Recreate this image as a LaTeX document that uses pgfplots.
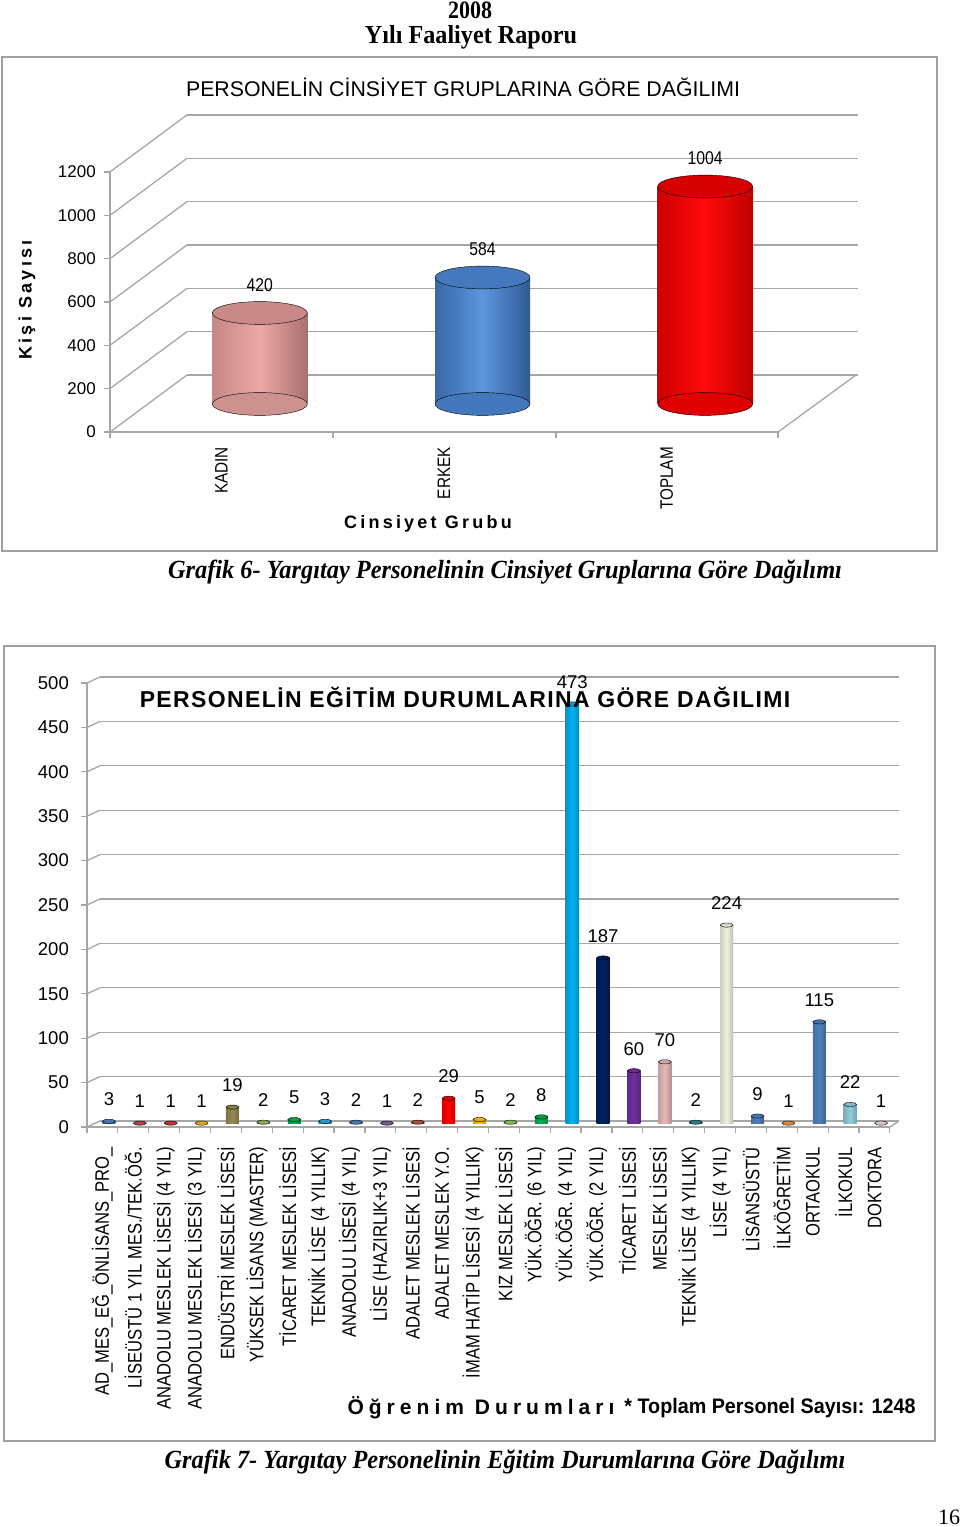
\documentclass[border=0pt]{standalone}
\usepackage{pgfplots}
\pgfplotsset{compat=1.18}
\usepackage{fontspec}
\setmainfont{Liberation Sans}
\newfontfamily\arial{Liberation Sans}
\newfontfamily\narrow[FakeStretch=0.85]{Liberation Sans}
\newfontfamily\semi[FakeStretch=0.94]{Liberation Sans}
\newfontfamily\spaced[LetterSpace=18]{Liberation Sans}
\newfontfamily\spacedb[LetterSpace=24]{Liberation Sans}
\newfontfamily\titlesp[LetterSpace=6]{Liberation Sans}
\newfontfamily\tnrc[FakeStretch=0.88]{Liberation Serif}
\newfontfamily\tnrw[FakeStretch=0.93]{Liberation Serif}
\newfontfamily\tnr{Liberation Serif}
\newcommand\fs[1]{\fontsize{#1}{#1}\selectfont}
\definecolor{grid}{HTML}{A6A6A6}
\definecolor{frame}{HTML}{A0A0A0}
% chart 2 palette
\definecolor{b1}{HTML}{4F81BD}\definecolor{b2}{HTML}{C0504D}\definecolor{b3}{HTML}{D8363A}
\definecolor{b4}{HTML}{F2C314}\definecolor{b5}{HTML}{948A54}\definecolor{b6}{HTML}{9BBB59}
\definecolor{b7}{HTML}{00B050}\definecolor{b8}{HTML}{2EA8DC}\definecolor{b9}{HTML}{4F81BD}
\definecolor{b10}{HTML}{8064A2}\definecolor{b11}{HTML}{C0504D}\definecolor{b12}{HTML}{FF0000}
\definecolor{b13}{HTML}{FFC000}\definecolor{b14}{HTML}{92D050}\definecolor{b15}{HTML}{00B050}
\definecolor{b16}{HTML}{00B0F0}\definecolor{b17}{HTML}{002060}\definecolor{b18}{HTML}{7030A0}
\definecolor{b19}{HTML}{E6B9B8}\definecolor{b20}{HTML}{31859C}\definecolor{b21}{HTML}{EEF3E0}
\definecolor{b22}{HTML}{4F81BD}\definecolor{b23}{HTML}{F79646}\definecolor{b24}{HTML}{4F81BD}
\definecolor{b25}{HTML}{93CDDD}\definecolor{b26}{HTML}{F2DCDB}
\pgfplotsset{/pgf/number format/1000 sep={}, /pgf/number format/assume math mode=true}
% small cylinder for chart 2
\newcommand\cyl[3]{%
  \addplot[ybar, bar width=13pt, bar shift=0pt, draw=none,
    left color=#3!85!black, right color=#3!78!black, middle color=#3] coordinates {(#1,#2)};
  \addplot[only marks, mark=*, mark size=6.5pt, mark options={yscale=0.32, draw=none, fill=#3!90!black},
    nodes near coords, every node near coord/.append style={anchor=center, yshift=22pt, font=\arial\fs{18.5}}]
    coordinates {(#1,#2)};
}
\begin{document}
\begin{tikzpicture}[x=1pt,y=1pt]
\path (0,0) rectangle (960,1527);
% ---------- header ----------
\node[font=\tnrc\bfseries\fs{25}, inner sep=0pt] at (470,{1527-10}) {2008};
\node[font=\tnrw\bfseries\fs{26}, inner sep=0pt] at (471,{1527-37}) {Yılı Faaliyet Raporu};
% ---------- chart 1 ----------
\draw[frame, line width=1.5pt] (2,{1527-57}) rectangle (937,{1527-551});
\node[font=\arial\fs{21.3}, inner sep=0pt] at (463,{1527-87}) {PERSONELİN CİNSİYET GRUPLARINA GÖRE DAĞILIMI};
\foreach \v in {0,200,...,1200} {
  \draw[grid, line width=1.3pt] (187,{1527-375+\v*0.2167}) -- (858,{1527-375+\v*0.2167});
  \draw[grid, line width=1.3pt] (110,{1527-432+\v*0.2167}) -- (187,{1527-375+\v*0.2167});
}
\draw[grid, line width=1.3pt] (778,{1527-432}) -- (856,{1527-375});
\foreach \x in {110,333,556,778} \draw[grid, line width=1.2pt] (\x,{1527-432}) -- (\x,{1527-438});
\begin{axis}[at={(110pt,1095pt)}, anchor=south west, scale only axis, width=668pt, height=260pt,
  xmin=-0.5, xmax=2.5, ymin=0, ymax=1200,
  axis lines*=left, axis line style={grid, line width=1.5pt},
  ytick={0,200,...,1200}, xtick={0,1,2}, xticklabels={KADIN,ERKEK,TOPLAM},
  xtick style={draw=none}, ytick style={grid, line width=1.2pt},
  tick align=outside, major tick length=6pt,
  yticklabel style={font=\arial\fs{17}, inner sep=0pt, xshift=-8pt},
  xticklabel shift=9pt,
  xticklabel style={rotate=90, anchor=east, font=\narrow\fs{18}, inner sep=0pt}]
\end{axis}
\begin{axis}[at={(148.5pt,1123pt)}, anchor=south west, scale only axis, width=668pt, height=260pt,
  xmin=-0.5, xmax=2.5, ymin=0, ymax=1200, hide axis, clip=false]
  % KADIN
  \addplot[draw=none, only marks, mark=*, mark size=47.5pt, mark options={yscale=0.24, draw=none, fill={rgb,255:red,205;green,145;blue,144}}] coordinates {(0,0)};
  \addplot[ybar, bar width=95pt, bar shift=0pt, draw=none, left color={rgb,255:red,196;green,136;blue,135}, right color={rgb,255:red,170;green,112;blue,111}, middle color={rgb,255:red,236;green,168;blue,167}] coordinates {(0,420)};
  \addplot[only marks, mark=*, mark size=47.5pt, mark options={yscale=0.24, draw=none, fill={rgb,255:red,200;green,138;blue,137}},
    nodes near coords, every node near coord/.append style={anchor=center, yshift=28pt, font=\narrow\fs{18.5}}] coordinates {(0,420)};
  % ERKEK
  \addplot[draw=none, only marks, mark=*, mark size=47.5pt, mark options={yscale=0.24, draw=none, fill={rgb,255:red,68;green,120;blue,188}}] coordinates {(1,0)};
  \addplot[ybar, bar width=95pt, bar shift=0pt, draw=none, left color={rgb,255:red,56;green,104;blue,168}, right color={rgb,255:red,46;green,90;blue,148}, middle color={rgb,255:red,92;green,150;blue,222}] coordinates {(1,584)};
  \addplot[only marks, mark=*, mark size=47.5pt, mark options={yscale=0.24, draw=none, fill={rgb,255:red,70;green,120;blue,190}},
    nodes near coords, every node near coord/.append style={anchor=center, yshift=28pt, font=\narrow\fs{18.5}}] coordinates {(1,584)};
  % TOPLAM
  \addplot[draw=none, only marks, mark=*, mark size=47.5pt, mark options={yscale=0.24, draw=none, fill={rgb,255:red,225;green,0;blue,0}}] coordinates {(2,0)};
  \addplot[ybar, bar width=95pt, bar shift=0pt, draw=none, left color={rgb,255:red,205;green,0;blue,0}, right color={rgb,255:red,190;green,0;blue,0}, middle color={rgb,255:red,255;green,10;blue,10}] coordinates {(2,1004)};
  \addplot[only marks, mark=*, mark size=47.5pt, mark options={yscale=0.24, draw=none, fill={rgb,255:red,215;green,0;blue,0}},
    nodes near coords, every node near coord/.append style={anchor=center, yshift=28pt, font=\narrow\fs{18.5}}] coordinates {(2,1004)};
\end{axis}
\node[font=\spaced\bfseries\fs{18}, rotate=90, inner sep=0pt] at (27,{1527-300}) {Kişi Sayısı};
\node[font=\spaced\bfseries\fs{18}, inner sep=0pt] at (428,{1527-524}) {Cinsiyet Grubu};
\node[font=\tnrw\bfseries\itshape\fs{26.2}, inner sep=0pt] at (505,{1527-572}) {Grafik 6- Yargıtay Personelinin Cinsiyet Gruplarına Göre Dağılımı};
% ---------- chart 2 ----------
\draw[frame, line width=1.5pt] (4,{1527-646}) rectangle (935,{1527-1441});
\foreach \v in {0,50,...,500} {
  \draw[grid, line width=1.3pt] (100,{1527-1121+\v*0.888}) -- (899,{1527-1121+\v*0.888});
  \draw[grid, line width=1.3pt] (87,{1527-1127+\v*0.888}) -- (100,{1527-1121+\v*0.888});
}
\draw[grid, line width=1.3pt] (890,{1527-1127}) -- (899,{1527-1121});
\foreach \k in {0,...,26} \draw[grid, line width=1.2pt] ({87+30.88*\k},{1527-1127}) -- ({87+30.88*\k},{1527-1133});
\begin{axis}[at={(87pt,400pt)}, anchor=south west, scale only axis, width=803pt, height=444pt,
  xmin=-0.5, xmax=25.5, ymin=0, ymax=500,
  axis lines*=left, axis line style={grid, line width=2.2pt},
  ytick={0,50,...,500}, xtick={0,...,25},
  xticklabels={AD\_MES\_EĞ\_ÖNLİSANS\_PRO\_, LİSEÜSTÜ 1 YIL MES./TEK.ÖĞ., ANADOLU MESLEK LİSESİ (4 YIL),
    ANADOLU MESLEK LİSESİ (3 YIL), ENDÜSTRİ MESLEK LİSESİ, YÜKSEK LİSANS (MASTER), TİCARET MESLEK LİSESİ,
    TEKNİK LİSE (4 YILLIK), ANADOLU LİSESİ (4 YIL), LİSE (HAZIRLIK+3 YIL), ADALET MESLEK LİSESİ,
    ADALET MESLEK Y.O., İMAM HATİP LİSESİ (4 YILLIK), KIZ MESLEK LİSESİ, YÜK.ÖĞR. (6 YIL), YÜK.ÖĞR. (4 YIL),
    YÜK.ÖĞR. (2 YIL), TİCARET LİSESİ, MESLEK LİSESİ, TEKNİK LİSE (4 YILLIK), LİSE (4 YIL), LİSANSÜSTÜ,
    İLKÖĞRETİM, ORTAOKUL, İLKOKUL, DOKTORA},
  xtick style={draw=none}, ytick style={grid, line width=1.2pt},
  tick align=outside, major tick length=6pt,
  yticklabel style={font=\arial\fs{18.5}, inner sep=0pt, xshift=-12pt},
  xticklabel shift=14pt,
  xticklabel style={rotate=90, anchor=east, font=\narrow\fs{19.5}, inner sep=0pt}]
\end{axis}
\begin{axis}[at={(93.5pt,403pt)}, anchor=south west, scale only axis, width=803pt, height=444pt,
  xmin=-0.5, xmax=25.5, ymin=0, ymax=500, hide axis, clip=false]
  \cyl{0}{3}{b1}\cyl{1}{1}{b2}\cyl{2}{1}{b3}\cyl{3}{1}{b4}\cyl{4}{19}{b5}\cyl{5}{2}{b6}
  \cyl{6}{5}{b7}\cyl{7}{3}{b8}\cyl{8}{2}{b9}\cyl{9}{1}{b10}\cyl{10}{2}{b11}\cyl{11}{29}{b12}
  \cyl{12}{5}{b13}\cyl{13}{2}{b14}\cyl{14}{8}{b15}\cyl{15}{473}{b16}\cyl{16}{187}{b17}\cyl{17}{60}{b18}
  \cyl{18}{70}{b19}\cyl{19}{2}{b20}\cyl{20}{224}{b21}\cyl{21}{9}{b22}\cyl{22}{1}{b23}\cyl{23}{115}{b24}
  \cyl{24}{22}{b25}\cyl{25}{1}{b26}
\end{axis}
\node[font=\titlesp\bfseries\fs{23}, inner sep=0pt] at (465,{1527-697}) {PERSONELİN EĞİTİM DURUMLARINA GÖRE DAĞILIMI};
\node[font=\spacedb\bfseries\fs{21}, inner sep=0pt] at (481,{1527-1408}) {Öğrenim Durumları};
\node[font=\semi\bfseries\fs{21}, inner sep=0pt] at (770,{1527-1408}) {* Toplam Personel Sayısı: 1248};
\node[font=\tnrw\bfseries\itshape\fs{26.2}, inner sep=0pt] at (505,{1527-1462}) {Grafik 7- Yargıtay Personelinin Eğitim Durumlarına Göre Dağılımı};
\node[font=\tnr\fs{22}, inner sep=0pt] at (949,{1527-1517}) {16};
\end{tikzpicture}
\end{document}
